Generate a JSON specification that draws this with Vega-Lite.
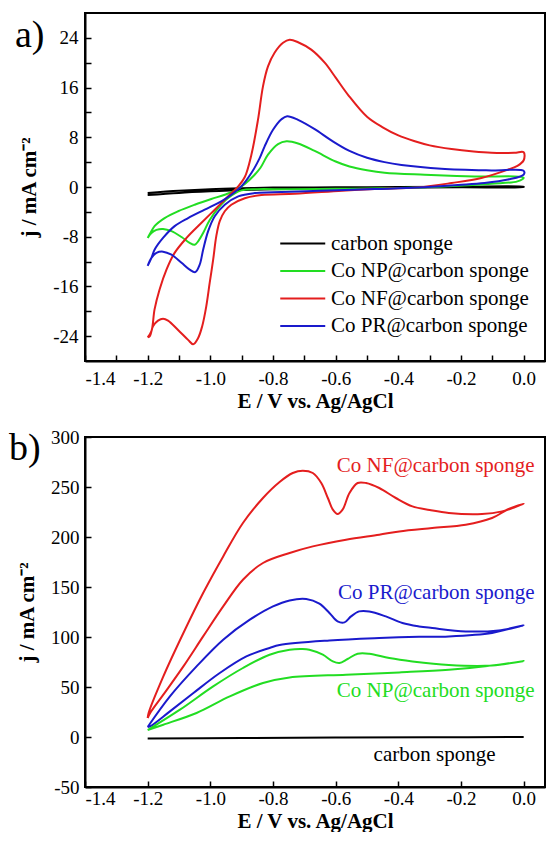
{
  "$schema": "https://vega.github.io/schema/vega-lite/v6.json",
  "background": "white",
  "padding": {"left": 8, "top": 12, "right": 0, "bottom": 0},
  "bounds": "flush",
  "spacing": 76,
  "config": {
    "view": {"stroke": "black", "strokeWidth": 2},
    "axis": {"domainColor": "black", "domainWidth": 2, "tickColor": "black", "tickWidth": 1.5, "tickSize": -6, "grid": false, "labelFont": "Liberation Serif", "labelFontSize": 19, "labelColor": "black", "titleFont": "Liberation Serif", "titleFontSize": 21, "titleFontWeight": "bold", "titleColor": "black"},
    "title": {"font": "Liberation Serif", "fontSize": 38, "fontWeight": "normal", "anchor": "start", "frame": "group", "offset": 0, "color": "black"},
    "legend": {"title": null, "symbolType": "M-1,0L3,0", "symbolSize": 506, "symbolStrokeWidth": 2, "labelFont": "Liberation Serif", "labelFontSize": 21, "labelColor": "black", "labelOffset": 27, "labelLimit": 400, "rowPadding": 4.5, "padding": 0}
  },
  "resolve": {"scale": {"color": "independent"}, "legend": {"color": "independent"}},
  "datasets": {
    "a": [
      {"s": "carbon sponge", "i": 1, "x": -1.2, "y": -1.3},
      {"s": "carbon sponge", "i": 2, "x": -1.1, "y": -0.95},
      {"s": "carbon sponge", "i": 3, "x": -1.0, "y": -0.7},
      {"s": "carbon sponge", "i": 4, "x": -0.9, "y": -0.5},
      {"s": "carbon sponge", "i": 5, "x": -0.8, "y": -0.35},
      {"s": "carbon sponge", "i": 6, "x": -0.6, "y": -0.2},
      {"s": "carbon sponge", "i": 7, "x": -0.4, "y": -0.1},
      {"s": "carbon sponge", "i": 8, "x": -0.2, "y": -0.05},
      {"s": "carbon sponge", "i": 9, "x": 0.0, "y": 0.0},
      {"s": "carbon sponge", "i": 10, "x": 0.0, "y": 0.05},
      {"s": "carbon sponge", "i": 11, "x": -0.2, "y": 0.05},
      {"s": "carbon sponge", "i": 12, "x": -0.4, "y": 0.0},
      {"s": "carbon sponge", "i": 13, "x": -0.6, "y": -0.05},
      {"s": "carbon sponge", "i": 14, "x": -0.8, "y": -0.1},
      {"s": "carbon sponge", "i": 15, "x": -0.9, "y": -0.2},
      {"s": "carbon sponge", "i": 16, "x": -1.0, "y": -0.35},
      {"s": "carbon sponge", "i": 17, "x": -1.1, "y": -0.6},
      {"s": "carbon sponge", "i": 18, "x": -1.2, "y": -0.95},

      {"s": "Co NP@carbon sponge", "i": 1, "x": -1.2, "y": -8.2},
      {"s": "Co NP@carbon sponge", "i": 2, "x": -1.19, "y": -7.3},
      {"s": "Co NP@carbon sponge", "i": 3, "x": -1.178, "y": -6.3},
      {"s": "Co NP@carbon sponge", "i": 4, "x": -1.146, "y": -5.0},
      {"s": "Co NP@carbon sponge", "i": 5, "x": -1.103, "y": -3.9},
      {"s": "Co NP@carbon sponge", "i": 6, "x": -1.05, "y": -2.85},
      {"s": "Co NP@carbon sponge", "i": 7, "x": -0.997, "y": -1.93},
      {"s": "Co NP@carbon sponge", "i": 8, "x": -0.954, "y": -1.24},
      {"s": "Co NP@carbon sponge", "i": 9, "x": -0.922, "y": -0.6},
      {"s": "Co NP@carbon sponge", "i": 10, "x": -0.89, "y": 0.5},
      {"s": "Co NP@carbon sponge", "i": 11, "x": -0.86, "y": 1.9},
      {"s": "Co NP@carbon sponge", "i": 12, "x": -0.84, "y": 3.1},
      {"s": "Co NP@carbon sponge", "i": 13, "x": -0.816, "y": 5.2},
      {"s": "Co NP@carbon sponge", "i": 14, "x": -0.784, "y": 6.9},
      {"s": "Co NP@carbon sponge", "i": 15, "x": -0.757, "y": 7.35},
      {"s": "Co NP@carbon sponge", "i": 16, "x": -0.72, "y": 7.0},
      {"s": "Co NP@carbon sponge", "i": 17, "x": -0.667, "y": 5.8},
      {"s": "Co NP@carbon sponge", "i": 18, "x": -0.6, "y": 4.1},
      {"s": "Co NP@carbon sponge", "i": 19, "x": -0.556, "y": 3.3},
      {"s": "Co NP@carbon sponge", "i": 20, "x": -0.5, "y": 2.7},
      {"s": "Co NP@carbon sponge", "i": 21, "x": -0.444, "y": 2.3},
      {"s": "Co NP@carbon sponge", "i": 22, "x": -0.316, "y": 1.98},
      {"s": "Co NP@carbon sponge", "i": 23, "x": -0.157, "y": 1.7},
      {"s": "Co NP@carbon sponge", "i": 24, "x": 0.0, "y": 1.5},
      {"s": "Co NP@carbon sponge", "i": 25, "x": -0.02, "y": 0.9},
      {"s": "Co NP@carbon sponge", "i": 26, "x": -0.103, "y": 0.53},
      {"s": "Co NP@carbon sponge", "i": 27, "x": -0.21, "y": 0.2},
      {"s": "Co NP@carbon sponge", "i": 28, "x": -0.316, "y": -0.05},
      {"s": "Co NP@carbon sponge", "i": 29, "x": -0.45, "y": -0.2},
      {"s": "Co NP@carbon sponge", "i": 30, "x": -0.6, "y": -0.3},
      {"s": "Co NP@carbon sponge", "i": 31, "x": -0.75, "y": -0.38},
      {"s": "Co NP@carbon sponge", "i": 32, "x": -0.85, "y": -0.35},
      {"s": "Co NP@carbon sponge", "i": 33, "x": -0.901, "y": -0.55},
      {"s": "Co NP@carbon sponge", "i": 34, "x": -0.943, "y": -1.77},
      {"s": "Co NP@carbon sponge", "i": 35, "x": -0.975, "y": -3.4},
      {"s": "Co NP@carbon sponge", "i": 36, "x": -1.002, "y": -5.3},
      {"s": "Co NP@carbon sponge", "i": 37, "x": -1.023, "y": -7.4},
      {"s": "Co NP@carbon sponge", "i": 38, "x": -1.039, "y": -8.75},
      {"s": "Co NP@carbon sponge", "i": 39, "x": -1.05, "y": -9.3},
      {"s": "Co NP@carbon sponge", "i": 40, "x": -1.066, "y": -9.0},
      {"s": "Co NP@carbon sponge", "i": 41, "x": -1.092, "y": -8.05},
      {"s": "Co NP@carbon sponge", "i": 42, "x": -1.124, "y": -7.1},
      {"s": "Co NP@carbon sponge", "i": 43, "x": -1.151, "y": -6.75},
      {"s": "Co NP@carbon sponge", "i": 44, "x": -1.172, "y": -6.9},
      {"s": "Co NP@carbon sponge", "i": 45, "x": -1.188, "y": -7.4},
      {"s": "Co NP@carbon sponge", "i": 46, "x": -1.2, "y": -8.2},

      {"s": "Co NF@carbon sponge", "i": 1, "x": -1.2, "y": -24.2},
      {"s": "Co NF@carbon sponge", "i": 2, "x": -1.188, "y": -23.2},
      {"s": "Co NF@carbon sponge", "i": 3, "x": -1.178, "y": -19.7},
      {"s": "Co NF@carbon sponge", "i": 4, "x": -1.162, "y": -16.5},
      {"s": "Co NF@carbon sponge", "i": 5, "x": -1.14, "y": -13.3},
      {"s": "Co NF@carbon sponge", "i": 6, "x": -1.114, "y": -10.6},
      {"s": "Co NF@carbon sponge", "i": 7, "x": -1.076, "y": -8.2},
      {"s": "Co NF@carbon sponge", "i": 8, "x": -1.029, "y": -5.8},
      {"s": "Co NF@carbon sponge", "i": 9, "x": -0.986, "y": -3.65},
      {"s": "Co NF@carbon sponge", "i": 10, "x": -0.943, "y": -1.5},
      {"s": "Co NF@carbon sponge", "i": 11, "x": -0.911, "y": 0.1},
      {"s": "Co NF@carbon sponge", "i": 12, "x": -0.89, "y": 1.6},
      {"s": "Co NF@carbon sponge", "i": 13, "x": -0.869, "y": 5.2},
      {"s": "Co NF@carbon sponge", "i": 14, "x": -0.848, "y": 10.8},
      {"s": "Co NF@carbon sponge", "i": 15, "x": -0.832, "y": 16.2},
      {"s": "Co NF@carbon sponge", "i": 16, "x": -0.816, "y": 19.4},
      {"s": "Co NF@carbon sponge", "i": 17, "x": -0.795, "y": 21.6},
      {"s": "Co NF@carbon sponge", "i": 18, "x": -0.768, "y": 23.2},
      {"s": "Co NF@carbon sponge", "i": 19, "x": -0.747, "y": 23.7},
      {"s": "Co NF@carbon sponge", "i": 20, "x": -0.72, "y": 23.3},
      {"s": "Co NF@carbon sponge", "i": 21, "x": -0.678, "y": 22.1},
      {"s": "Co NF@carbon sponge", "i": 22, "x": -0.635, "y": 20.0},
      {"s": "Co NF@carbon sponge", "i": 23, "x": -0.6, "y": 17.6},
      {"s": "Co NF@carbon sponge", "i": 24, "x": -0.56, "y": 14.8},
      {"s": "Co NF@carbon sponge", "i": 25, "x": -0.5, "y": 11.3},
      {"s": "Co NF@carbon sponge", "i": 26, "x": -0.45, "y": 9.6},
      {"s": "Co NF@carbon sponge", "i": 27, "x": -0.4, "y": 8.3},
      {"s": "Co NF@carbon sponge", "i": 28, "x": -0.35, "y": 7.4},
      {"s": "Co NF@carbon sponge", "i": 29, "x": -0.3, "y": 6.7},
      {"s": "Co NF@carbon sponge", "i": 30, "x": -0.23, "y": 6.1},
      {"s": "Co NF@carbon sponge", "i": 31, "x": -0.16, "y": 5.7},
      {"s": "Co NF@carbon sponge", "i": 32, "x": -0.103, "y": 5.5},
      {"s": "Co NF@carbon sponge", "i": 33, "x": -0.03, "y": 5.5},
      {"s": "Co NF@carbon sponge", "i": 34, "x": 0.0, "y": 5.6},
      {"s": "Co NF@carbon sponge", "i": 35, "x": 0.0, "y": 4.3},
      {"s": "Co NF@carbon sponge", "i": 36, "x": -0.02, "y": 3.4},
      {"s": "Co NF@carbon sponge", "i": 37, "x": -0.05, "y": 2.8},
      {"s": "Co NF@carbon sponge", "i": 38, "x": -0.135, "y": 1.45},
      {"s": "Co NF@carbon sponge", "i": 39, "x": -0.23, "y": 0.64},
      {"s": "Co NF@carbon sponge", "i": 40, "x": -0.337, "y": -0.06},
      {"s": "Co NF@carbon sponge", "i": 41, "x": -0.477, "y": -0.33},
      {"s": "Co NF@carbon sponge", "i": 42, "x": -0.58, "y": -0.6},
      {"s": "Co NF@carbon sponge", "i": 43, "x": -0.73, "y": -1.1},
      {"s": "Co NF@carbon sponge", "i": 44, "x": -0.837, "y": -1.3},
      {"s": "Co NF@carbon sponge", "i": 45, "x": -0.89, "y": -1.8},
      {"s": "Co NF@carbon sponge", "i": 46, "x": -0.933, "y": -2.85},
      {"s": "Co NF@carbon sponge", "i": 47, "x": -0.954, "y": -3.9},
      {"s": "Co NF@carbon sponge", "i": 48, "x": -0.97, "y": -5.5},
      {"s": "Co NF@carbon sponge", "i": 49, "x": -0.981, "y": -7.9},
      {"s": "Co NF@carbon sponge", "i": 50, "x": -0.991, "y": -11.7},
      {"s": "Co NF@carbon sponge", "i": 51, "x": -1.002, "y": -15.4},
      {"s": "Co NF@carbon sponge", "i": 52, "x": -1.013, "y": -19.2},
      {"s": "Co NF@carbon sponge", "i": 53, "x": -1.026, "y": -22.4},
      {"s": "Co NF@carbon sponge", "i": 54, "x": -1.039, "y": -24.3},
      {"s": "Co NF@carbon sponge", "i": 55, "x": -1.055, "y": -25.3},
      {"s": "Co NF@carbon sponge", "i": 56, "x": -1.071, "y": -24.6},
      {"s": "Co NF@carbon sponge", "i": 57, "x": -1.103, "y": -23.0},
      {"s": "Co NF@carbon sponge", "i": 58, "x": -1.135, "y": -21.5},
      {"s": "Co NF@carbon sponge", "i": 59, "x": -1.151, "y": -21.2},
      {"s": "Co NF@carbon sponge", "i": 60, "x": -1.167, "y": -21.5},
      {"s": "Co NF@carbon sponge", "i": 61, "x": -1.183, "y": -22.4},
      {"s": "Co NF@carbon sponge", "i": 62, "x": -1.193, "y": -24.0},
      {"s": "Co NF@carbon sponge", "i": 63, "x": -1.2, "y": -24.2},

      {"s": "Co PR@carbon sponge", "i": 1, "x": -1.2, "y": -12.7},
      {"s": "Co PR@carbon sponge", "i": 2, "x": -1.188, "y": -11.4},
      {"s": "Co PR@carbon sponge", "i": 3, "x": -1.178, "y": -10.1},
      {"s": "Co PR@carbon sponge", "i": 4, "x": -1.151, "y": -8.2},
      {"s": "Co PR@carbon sponge", "i": 5, "x": -1.114, "y": -6.3},
      {"s": "Co PR@carbon sponge", "i": 6, "x": -1.071, "y": -5.0},
      {"s": "Co PR@carbon sponge", "i": 7, "x": -1.018, "y": -3.65},
      {"s": "Co PR@carbon sponge", "i": 8, "x": -0.965, "y": -2.3},
      {"s": "Co PR@carbon sponge", "i": 9, "x": -0.933, "y": -1.24},
      {"s": "Co PR@carbon sponge", "i": 10, "x": -0.901, "y": 0.1},
      {"s": "Co PR@carbon sponge", "i": 11, "x": -0.869, "y": 2.25},
      {"s": "Co PR@carbon sponge", "i": 12, "x": -0.843, "y": 4.6},
      {"s": "Co PR@carbon sponge", "i": 13, "x": -0.827, "y": 6.5},
      {"s": "Co PR@carbon sponge", "i": 14, "x": -0.8, "y": 9.2},
      {"s": "Co PR@carbon sponge", "i": 15, "x": -0.773, "y": 10.9},
      {"s": "Co PR@carbon sponge", "i": 16, "x": -0.755, "y": 11.4},
      {"s": "Co PR@carbon sponge", "i": 17, "x": -0.72, "y": 10.8},
      {"s": "Co PR@carbon sponge", "i": 18, "x": -0.667, "y": 9.3},
      {"s": "Co PR@carbon sponge", "i": 19, "x": -0.614, "y": 7.5},
      {"s": "Co PR@carbon sponge", "i": 20, "x": -0.556, "y": 5.8},
      {"s": "Co PR@carbon sponge", "i": 21, "x": -0.5, "y": 4.7},
      {"s": "Co PR@carbon sponge", "i": 22, "x": -0.444, "y": 4.0},
      {"s": "Co PR@carbon sponge", "i": 23, "x": -0.39, "y": 3.55},
      {"s": "Co PR@carbon sponge", "i": 24, "x": -0.263, "y": 2.95},
      {"s": "Co PR@carbon sponge", "i": 25, "x": -0.103, "y": 2.67},
      {"s": "Co PR@carbon sponge", "i": 26, "x": 0.0, "y": 2.6},
      {"s": "Co PR@carbon sponge", "i": 27, "x": 0.0, "y": 2.0},
      {"s": "Co PR@carbon sponge", "i": 28, "x": -0.05, "y": 1.2},
      {"s": "Co PR@carbon sponge", "i": 29, "x": -0.125, "y": 0.64},
      {"s": "Co PR@carbon sponge", "i": 30, "x": -0.21, "y": 0.32},
      {"s": "Co PR@carbon sponge", "i": 31, "x": -0.337, "y": -0.1},
      {"s": "Co PR@carbon sponge", "i": 32, "x": -0.476, "y": -0.33},
      {"s": "Co PR@carbon sponge", "i": 33, "x": -0.65, "y": -0.6},
      {"s": "Co PR@carbon sponge", "i": 34, "x": -0.8, "y": -0.85},
      {"s": "Co PR@carbon sponge", "i": 35, "x": -0.858, "y": -0.97},
      {"s": "Co PR@carbon sponge", "i": 36, "x": -0.911, "y": -1.5},
      {"s": "Co PR@carbon sponge", "i": 37, "x": -0.954, "y": -2.85},
      {"s": "Co PR@carbon sponge", "i": 38, "x": -0.986, "y": -4.7},
      {"s": "Co PR@carbon sponge", "i": 39, "x": -1.007, "y": -7.1},
      {"s": "Co PR@carbon sponge", "i": 40, "x": -1.023, "y": -10.1},
      {"s": "Co PR@carbon sponge", "i": 41, "x": -1.034, "y": -12.5},
      {"s": "Co PR@carbon sponge", "i": 42, "x": -1.048, "y": -13.7},
      {"s": "Co PR@carbon sponge", "i": 43, "x": -1.066, "y": -13.3},
      {"s": "Co PR@carbon sponge", "i": 44, "x": -1.092, "y": -12.2},
      {"s": "Co PR@carbon sponge", "i": 45, "x": -1.124, "y": -10.9},
      {"s": "Co PR@carbon sponge", "i": 46, "x": -1.151, "y": -10.4},
      {"s": "Co PR@carbon sponge", "i": 47, "x": -1.172, "y": -10.6},
      {"s": "Co PR@carbon sponge", "i": 48, "x": -1.188, "y": -11.4},
      {"s": "Co PR@carbon sponge", "i": 49, "x": -1.2, "y": -12.7}
    ],
    "b": [
      {"s": "carbon sponge", "i": 1, "x": -1.2, "y": -1.5},
      {"s": "carbon sponge", "i": 2, "x": -0.9, "y": -1.0},
      {"s": "carbon sponge", "i": 3, "x": -0.6, "y": -0.6},
      {"s": "carbon sponge", "i": 4, "x": -0.3, "y": -0.3},
      {"s": "carbon sponge", "i": 5, "x": 0.0, "y": 0.0},

      {"s": "Co NF@carbon sponge", "i": 1, "x": -1.2, "y": 19},
      {"s": "Co NF@carbon sponge", "i": 2, "x": -1.197, "y": 24},
      {"s": "Co NF@carbon sponge", "i": 3, "x": -1.15, "y": 60.6},
      {"s": "Co NF@carbon sponge", "i": 4, "x": -1.086, "y": 104},
      {"s": "Co NF@carbon sponge", "i": 5, "x": -1.023, "y": 144},
      {"s": "Co NF@carbon sponge", "i": 6, "x": -0.959, "y": 180.6},
      {"s": "Co NF@carbon sponge", "i": 7, "x": -0.896, "y": 214},
      {"s": "Co NF@carbon sponge", "i": 8, "x": -0.832, "y": 239},
      {"s": "Co NF@carbon sponge", "i": 9, "x": -0.779, "y": 255},
      {"s": "Co NF@carbon sponge", "i": 10, "x": -0.737, "y": 264},
      {"s": "Co NF@carbon sponge", "i": 11, "x": -0.705, "y": 266.3},
      {"s": "Co NF@carbon sponge", "i": 12, "x": -0.673, "y": 264},
      {"s": "Co NF@carbon sponge", "i": 13, "x": -0.646, "y": 254},
      {"s": "Co NF@carbon sponge", "i": 14, "x": -0.625, "y": 239},
      {"s": "Co NF@carbon sponge", "i": 15, "x": -0.609, "y": 227.3},
      {"s": "Co NF@carbon sponge", "i": 16, "x": -0.594, "y": 223},
      {"s": "Co NF@carbon sponge", "i": 17, "x": -0.578, "y": 227.3},
      {"s": "Co NF@carbon sponge", "i": 18, "x": -0.556, "y": 244},
      {"s": "Co NF@carbon sponge", "i": 19, "x": -0.53, "y": 254},
      {"s": "Co NF@carbon sponge", "i": 20, "x": -0.503, "y": 254},
      {"s": "Co NF@carbon sponge", "i": 21, "x": -0.461, "y": 249},
      {"s": "Co NF@carbon sponge", "i": 22, "x": -0.408, "y": 239},
      {"s": "Co NF@carbon sponge", "i": 23, "x": -0.355, "y": 230.6},
      {"s": "Co NF@carbon sponge", "i": 24, "x": -0.3, "y": 227},
      {"s": "Co NF@carbon sponge", "i": 25, "x": -0.239, "y": 224},
      {"s": "Co NF@carbon sponge", "i": 26, "x": -0.133, "y": 223},
      {"s": "Co NF@carbon sponge", "i": 27, "x": -0.069, "y": 225.6},
      {"s": "Co NF@carbon sponge", "i": 28, "x": -0.027, "y": 230},
      {"s": "Co NF@carbon sponge", "i": 29, "x": 0.0, "y": 233.3},
      {"s": "Co NF@carbon sponge", "i": 30, "x": -0.048, "y": 228},
      {"s": "Co NF@carbon sponge", "i": 31, "x": -0.101, "y": 219},
      {"s": "Co NF@carbon sponge", "i": 32, "x": -0.185, "y": 212.3},
      {"s": "Co NF@carbon sponge", "i": 33, "x": -0.292, "y": 209},
      {"s": "Co NF@carbon sponge", "i": 34, "x": -0.397, "y": 205.6},
      {"s": "Co NF@carbon sponge", "i": 35, "x": -0.461, "y": 202.3},
      {"s": "Co NF@carbon sponge", "i": 36, "x": -0.567, "y": 197.3},
      {"s": "Co NF@carbon sponge", "i": 37, "x": -0.673, "y": 190.6},
      {"s": "Co NF@carbon sponge", "i": 38, "x": -0.747, "y": 184},
      {"s": "Co NF@carbon sponge", "i": 39, "x": -0.832, "y": 174},
      {"s": "Co NF@carbon sponge", "i": 40, "x": -0.896, "y": 157.3},
      {"s": "Co NF@carbon sponge", "i": 41, "x": -0.959, "y": 130.6},
      {"s": "Co NF@carbon sponge", "i": 42, "x": -1.023, "y": 100.6},
      {"s": "Co NF@carbon sponge", "i": 43, "x": -1.086, "y": 70.6},
      {"s": "Co NF@carbon sponge", "i": 44, "x": -1.15, "y": 42.3},
      {"s": "Co NF@carbon sponge", "i": 45, "x": -1.192, "y": 24},
      {"s": "Co NF@carbon sponge", "i": 46, "x": -1.2, "y": 19},

      {"s": "Co PR@carbon sponge", "i": 1, "x": -1.2, "y": 10},
      {"s": "Co PR@carbon sponge", "i": 2, "x": -1.129, "y": 40.6},
      {"s": "Co PR@carbon sponge", "i": 3, "x": -1.044, "y": 70.6},
      {"s": "Co PR@carbon sponge", "i": 4, "x": -0.959, "y": 97.3},
      {"s": "Co PR@carbon sponge", "i": 5, "x": -0.874, "y": 117.3},
      {"s": "Co PR@carbon sponge", "i": 6, "x": -0.8, "y": 130.6},
      {"s": "Co PR@carbon sponge", "i": 7, "x": -0.747, "y": 136.6},
      {"s": "Co PR@carbon sponge", "i": 8, "x": -0.694, "y": 138},
      {"s": "Co PR@carbon sponge", "i": 9, "x": -0.652, "y": 133.3},
      {"s": "Co PR@carbon sponge", "i": 10, "x": -0.62, "y": 124},
      {"s": "Co PR@carbon sponge", "i": 11, "x": -0.594, "y": 115.6},
      {"s": "Co PR@carbon sponge", "i": 12, "x": -0.572, "y": 114.6},
      {"s": "Co PR@carbon sponge", "i": 13, "x": -0.551, "y": 120.6},
      {"s": "Co PR@carbon sponge", "i": 14, "x": -0.525, "y": 125.6},
      {"s": "Co PR@carbon sponge", "i": 15, "x": -0.493, "y": 125.6},
      {"s": "Co PR@carbon sponge", "i": 16, "x": -0.44, "y": 120.6},
      {"s": "Co PR@carbon sponge", "i": 17, "x": -0.387, "y": 114},
      {"s": "Co PR@carbon sponge", "i": 18, "x": -0.334, "y": 110.6},
      {"s": "Co PR@carbon sponge", "i": 19, "x": -0.292, "y": 109},
      {"s": "Co PR@carbon sponge", "i": 20, "x": -0.185, "y": 105.6},
      {"s": "Co PR@carbon sponge", "i": 21, "x": -0.08, "y": 106.6},
      {"s": "Co PR@carbon sponge", "i": 22, "x": 0.0, "y": 111.6},
      {"s": "Co PR@carbon sponge", "i": 23, "x": -0.048, "y": 108},
      {"s": "Co PR@carbon sponge", "i": 24, "x": -0.101, "y": 104},
      {"s": "Co PR@carbon sponge", "i": 25, "x": -0.239, "y": 100.6},
      {"s": "Co PR@carbon sponge", "i": 26, "x": -0.334, "y": 100.2},
      {"s": "Co PR@carbon sponge", "i": 27, "x": -0.461, "y": 99},
      {"s": "Co PR@carbon sponge", "i": 28, "x": -0.62, "y": 96.6},
      {"s": "Co PR@carbon sponge", "i": 29, "x": -0.779, "y": 92},
      {"s": "Co PR@carbon sponge", "i": 30, "x": -0.811, "y": 89},
      {"s": "Co PR@carbon sponge", "i": 31, "x": -0.885, "y": 80.6},
      {"s": "Co PR@carbon sponge", "i": 32, "x": -0.97, "y": 64},
      {"s": "Co PR@carbon sponge", "i": 33, "x": -1.054, "y": 44},
      {"s": "Co PR@carbon sponge", "i": 34, "x": -1.129, "y": 25.6},
      {"s": "Co PR@carbon sponge", "i": 35, "x": -1.192, "y": 10.6},
      {"s": "Co PR@carbon sponge", "i": 36, "x": -1.2, "y": 10},

      {"s": "Co NP@carbon sponge", "i": 1, "x": -1.2, "y": 7},
      {"s": "Co NP@carbon sponge", "i": 2, "x": -1.097, "y": 27.3},
      {"s": "Co NP@carbon sponge", "i": 3, "x": -0.991, "y": 50.6},
      {"s": "Co NP@carbon sponge", "i": 4, "x": -0.896, "y": 69},
      {"s": "Co NP@carbon sponge", "i": 5, "x": -0.811, "y": 82.3},
      {"s": "Co NP@carbon sponge", "i": 6, "x": -0.747, "y": 87.3},
      {"s": "Co NP@carbon sponge", "i": 7, "x": -0.706, "y": 88},
      {"s": "Co NP@carbon sponge", "i": 8, "x": -0.684, "y": 87.3},
      {"s": "Co NP@carbon sponge", "i": 9, "x": -0.641, "y": 82.3},
      {"s": "Co NP@carbon sponge", "i": 10, "x": -0.609, "y": 75.6},
      {"s": "Co NP@carbon sponge", "i": 11, "x": -0.588, "y": 74},
      {"s": "Co NP@carbon sponge", "i": 12, "x": -0.562, "y": 78},
      {"s": "Co NP@carbon sponge", "i": 13, "x": -0.53, "y": 83.3},
      {"s": "Co NP@carbon sponge", "i": 14, "x": -0.493, "y": 83.3},
      {"s": "Co NP@carbon sponge", "i": 15, "x": -0.429, "y": 79},
      {"s": "Co NP@carbon sponge", "i": 16, "x": -0.355, "y": 75.6},
      {"s": "Co NP@carbon sponge", "i": 17, "x": -0.239, "y": 72},
      {"s": "Co NP@carbon sponge", "i": 18, "x": -0.101, "y": 71.5},
      {"s": "Co NP@carbon sponge", "i": 19, "x": 0.0, "y": 76},
      {"s": "Co NP@carbon sponge", "i": 20, "x": -0.08, "y": 72.3},
      {"s": "Co NP@carbon sponge", "i": 21, "x": -0.239, "y": 67.3},
      {"s": "Co NP@carbon sponge", "i": 22, "x": -0.397, "y": 64.6},
      {"s": "Co NP@carbon sponge", "i": 23, "x": -0.567, "y": 62.3},
      {"s": "Co NP@carbon sponge", "i": 24, "x": -0.747, "y": 59.5},
      {"s": "Co NP@carbon sponge", "i": 25, "x": -0.832, "y": 54},
      {"s": "Co NP@carbon sponge", "i": 26, "x": -0.938, "y": 40.6},
      {"s": "Co NP@carbon sponge", "i": 27, "x": -1.044, "y": 24},
      {"s": "Co NP@carbon sponge", "i": 28, "x": -1.15, "y": 12.3},
      {"s": "Co NP@carbon sponge", "i": 29, "x": -1.2, "y": 7}
    ],
    "bl": [
      {"s": "Co NF@carbon sponge", "t": "Co NF@carbon sponge", "x": 0.035, "y": 270.6},
      {"s": "Co PR@carbon sponge", "t": "Co PR@carbon sponge", "x": 0.035, "y": 144},
      {"s": "Co NP@carbon sponge", "t": "Co NP@carbon sponge", "x": 0.035, "y": 45.6},
      {"s": "carbon sponge", "t": "carbon sponge", "x": -0.09, "y": -17.7}
    ]
  },
  "vconcat": [
    {
      "title": {"text": "a)", "dx": -70, "dy": 46},
      "width": 460,
      "height": 348,
      "data": {"name": "a"},
      "mark": {"type": "line", "strokeWidth": 2, "interpolate": "catmull-rom"},
      "encoding": {
        "x": {"field": "x", "type": "quantitative", "scale": {"domain": [-1.4, 0.068], "nice": false, "zero": false},
          "axis": {"values": [-1.4, -1.3, -1.2, -1.1, -1.0, -0.9, -0.8, -0.7, -0.6, -0.5, -0.4, -0.3, -0.2, -0.1, 0.0],
            "labelExpr": "abs(round(datum.value*10)) % 2 == 0 ? (datum.value < -0.001 ? '-' : '') + format(abs(datum.value), '.1f') : ''",
            "title": "E / V vs. Ag/AgCl", "labelPadding": 14, "titlePadding": 2}},
        "y": {"field": "y", "type": "quantitative", "scale": {"domain": [-28, 28], "nice": false, "zero": false},
          "axis": {"values": [-24, -20, -16, -12, -8, -4, 0, 4, 8, 12, 16, 20, 24],
            "labelExpr": "datum.value % 8 == 0 ? (datum.value < 0 ? '-' : '') + format(abs(datum.value), 'd') : ''",
            "title": "j / mA cm⁻²", "labelPadding": 13, "titlePadding": 13}},
        "color": {"field": "s", "type": "nominal",
          "scale": {"domain": ["carbon sponge", "Co NP@carbon sponge", "Co NF@carbon sponge", "Co PR@carbon sponge"], "range": ["#000000", "#22dd22", "#e41e1e", "#1a1acc"]},
          "legend": {"orient": "none", "legendX": 194, "legendY": 218}},
        "order": {"field": "i", "type": "quantitative"}
      }
    },
    {
      "title": {"text": "b)", "dx": -76, "dy": 44},
      "width": 460,
      "height": 350,
      "layer": [
        {
          "data": {"name": "b"},
          "mark": {"type": "line", "strokeWidth": 2, "interpolate": "catmull-rom"},
          "encoding": {
            "x": {"field": "x", "type": "quantitative", "scale": {"domain": [-1.4, 0.068], "nice": false, "zero": false},
              "axis": {"values": [-1.4, -1.3, -1.2, -1.1, -1.0, -0.9, -0.8, -0.7, -0.6, -0.5, -0.4, -0.3, -0.2, -0.1, 0.0],
                "labelExpr": "abs(round(datum.value*10)) % 2 == 0 ? (datum.value < -0.001 ? '-' : '') + format(abs(datum.value), '.1f') : ''",
                "title": "E / V vs. Ag/AgCl", "labelPadding": 8, "titlePadding": 2}},
            "y": {"field": "y", "type": "quantitative", "scale": {"domain": [-50, 300], "nice": false, "zero": false},
              "axis": {"values": [-50, -25, 0, 25, 50, 75, 100, 125, 150, 175, 200, 225, 250, 275, 300],
                "labelExpr": "datum.value % 50 == 0 ? (datum.value < 0 ? '-' : '') + format(abs(datum.value), 'd') : ''",
                "title": "j / mA cm⁻²", "labelPadding": 12, "titlePadding": 13}},
            "color": {"field": "s", "type": "nominal",
              "scale": {"domain": ["carbon sponge", "Co NP@carbon sponge", "Co NF@carbon sponge", "Co PR@carbon sponge"], "range": ["#000000", "#22dd22", "#e41e1e", "#1a1acc"]},
              "legend": null},
            "order": {"field": "i", "type": "quantitative"}
          }
        },
        {
          "data": {"name": "bl"},
          "mark": {"type": "text", "font": "Liberation Serif", "fontSize": 21, "align": "right", "baseline": "middle"},
          "encoding": {
            "x": {"field": "x", "type": "quantitative"},
            "y": {"field": "y", "type": "quantitative"},
            "text": {"field": "t"},
            "color": {"field": "s", "type": "nominal", "legend": null}
          }
        }
      ]
    }
  ]
}
